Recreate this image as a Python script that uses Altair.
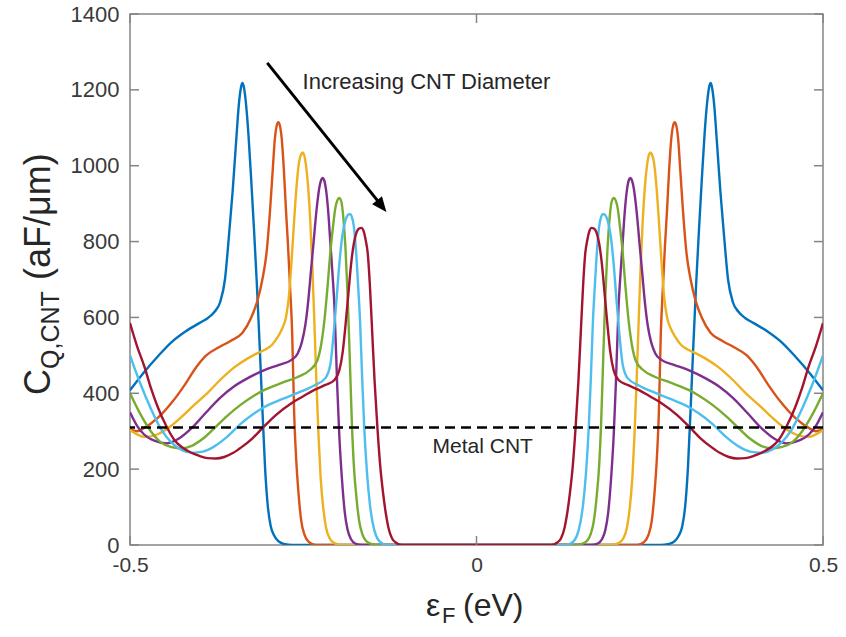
import altair as alt
import pandas as pd

# ---------------- data (left half; right half is the mirror image) ----
series_names = ["s1", "s2", "s3", "s4", "s5", "s6", "s7"]
series_colors = ["#0072BD", "#D95319", "#EDB120", "#7E2F8E", "#77AC30", "#4DBEEE", "#A2142F"]

blue_x = [-0.500, -0.480, -0.460, -0.440, -0.420, -0.400, -0.388, -0.378, -0.370, -0.363, -0.357,
          -0.352, -0.347, -0.343, -0.340, -0.338, -0.336, -0.333, -0.329, -0.325, -0.321, -0.317,
          -0.313, -0.309, -0.305, -0.301, -0.297, -0.292, -0.286, -0.278, -0.265, 0.0]
blue_y = [408, 455, 497, 535, 563, 585, 598, 615, 640, 700, 820,
          930, 1060, 1160, 1205, 1218, 1210, 1170, 1080, 960, 830, 690,
          530, 360, 200, 100, 50, 25, 10, 3, 0, 0]

orange_x = [-0.500, -0.490, -0.480, -0.460, -0.440, -0.420, -0.404, -0.390, -0.371, -0.355, -0.338,
            -0.325, -0.316, -0.309, -0.303, -0.298, -0.294, -0.291, -0.288, -0.286, -0.284, -0.281,
            -0.278, -0.275, -0.272, -0.269, -0.266, -0.263, -0.260, -0.257, -0.253, -0.248, -0.242,
            -0.232, 0.0]
orange_y = [305, 300, 308, 335, 375, 425, 470, 500, 522, 538, 559,
            600, 645, 700, 770, 880, 990, 1070, 1108, 1115, 1108, 1070,
            990, 885, 790, 680, 560, 340, 220, 140, 65, 26, 8,
            0, 0]

yellow_x = [-0.500, -0.479, -0.460, -0.440, -0.426, -0.410, -0.388, -0.370, -0.349, -0.330, -0.316,
            -0.306, -0.295, -0.287, -0.280, -0.275, -0.271, -0.267, -0.263, -0.259, -0.256, -0.253,
            -0.251, -0.249, -0.246, -0.243, -0.240, -0.237, -0.234, -0.231, -0.228, -0.225, -0.221,
            -0.217, -0.212, -0.205, -0.195, 0.0]
yellow_y = [303, 285, 292, 315, 337, 365, 401, 435, 469, 492, 506,
            514, 528, 548, 572, 600, 650, 745, 860, 960, 1010, 1030,
            1035, 1030, 1000, 945, 860, 740, 590, 430, 290, 180, 95,
            45, 18, 5, 0, 0]

purple_x = [-0.500, -0.490, -0.480, -0.465, -0.447, -0.430, -0.410, -0.390, -0.370, -0.350, -0.330,
            -0.306, -0.285, -0.267, -0.258, -0.252, -0.247, -0.243, -0.239, -0.235, -0.231, -0.227,
            -0.224, -0.222, -0.220, -0.217, -0.214, -0.211, -0.208, -0.205, -0.201, -0.198, -0.194,
            -0.190, -0.186, -0.181, -0.175, -0.165, 0.0]
purple_y = [350, 315, 292, 275, 268, 280, 310, 350, 388, 418, 440,
            461, 475, 488, 505, 535, 580, 640, 720, 800, 880, 940,
            963, 968, 963, 935, 880, 800, 720, 630, 420, 290, 170,
            85, 40, 15, 4, 0, 0]

green_x = [-0.500, -0.485, -0.470, -0.455, -0.440, -0.425, -0.410, -0.395, -0.380, -0.360, -0.340,
           -0.320, -0.306, -0.280, -0.258, -0.240, -0.230, -0.224, -0.219, -0.215, -0.211, -0.207,
           -0.204, -0.201, -0.198, -0.195, -0.192, -0.189, -0.186, -0.183, -0.180, -0.177, -0.173,
           -0.169, -0.165, -0.160, -0.152, -0.140, 0.0]
green_y = [400, 345, 300, 270, 258, 255, 262, 280, 305, 340, 370,
           395, 409, 428, 443, 462, 485, 530, 600, 680, 770, 840,
           885, 908, 915, 905, 860, 780, 660, 500, 330, 210, 120,
           60, 30, 12, 3, 0, 0]

cyan_x = [-0.500, -0.485, -0.470, -0.455, -0.440, -0.425, -0.410, -0.395, -0.380, -0.360, -0.340,
          -0.320, -0.306, -0.280, -0.258, -0.235, -0.218, -0.211, -0.206, -0.202, -0.198, -0.194,
          -0.190, -0.187, -0.184, -0.182, -0.180, -0.177, -0.174, -0.171, -0.168, -0.165, -0.162,
          -0.158, -0.154, -0.150, -0.145, -0.139, -0.130, 0.0]
cyan_y = [500, 425, 360, 305, 270, 250, 243, 246, 258, 285, 320,
          348, 364, 385, 401, 420, 440, 475, 560, 646, 740, 810,
          850, 866, 872, 872, 866, 840, 780, 690, 590, 440, 310,
          190, 110, 60, 25, 8, 0, 0]

red_x = [-0.500, -0.490, -0.479, -0.470, -0.460, -0.448, -0.436, -0.423, -0.411, -0.400, -0.388,
         -0.376, -0.364, -0.351, -0.339, -0.324, -0.309, -0.290, -0.267, -0.250, -0.234, -0.218,
         -0.205, -0.198, -0.193, -0.189, -0.185, -0.181, -0.177, -0.173, -0.169, -0.166, -0.163,
         -0.160, -0.157, -0.154, -0.151, -0.147, -0.143, -0.139, -0.135, -0.131, -0.127, -0.122,
         -0.116, -0.108, 0.0]
red_y = [585, 525, 469, 415, 364, 315, 277, 255, 243, 235, 229,
         228, 232, 243, 258, 280, 308, 342, 374, 392, 409, 422,
         435, 460, 510, 580, 660, 740, 795, 825, 835, 836, 828,
         805, 770, 690, 580, 430, 310, 210, 140, 85, 45, 18,
         6, 0, 0]

metal_cq = [310]
x_ticks = [-0.5, 0, 0.5]
y_ticks = [0, 200, 400, 600, 800, 1000, 1200, 1400]

arrow_start = (-0.302, 1271)
arrow_shaft_end = (-0.135, 890)
arrow_tip = (-0.130, 878)
arrow_label = "Increasing CNT Diameter"
arrow_label_pos = (-0.251, 1221)
metal_label = "Metal CNT"
metal_label_pos = (0.009, 258)

# ---------------- table ----------------
all_x = [blue_x, orange_x, yellow_x, purple_x, green_x, cyan_x, red_x]
all_y = [blue_y, orange_y, yellow_y, purple_y, green_y, cyan_y, red_y]
rows = []
for name, xs_, ys_ in zip(series_names, all_x, all_y):
    for x, y in zip(xs_, ys_):
        rows.append({"series": name, "ef": x, "cq": y})
        if x != 0:
            rows.append({"series": name, "ef": -x, "cq": y})
curves = pd.DataFrame(rows)

W, H = 693, 531
FONT = "Liberation Sans"
AXIS_GRAY = "#858585"
TEXT = "#262626"
LABEL = "#3a3a3a"

xs = alt.Scale(domain=[-0.5, 0.5], nice=False, zero=False)
ys = alt.Scale(domain=[0, 1400], nice=False)

x_axis = alt.Axis(values=x_ticks, title=None, grid=False, domain=False, ticks=False, labelFlush=False,
                  labelFont=FONT, labelFontSize=21, labelColor=LABEL, labelPadding=9,
                  labelExpr="datum.value < 0 ? '-' + format(-datum.value, '.1f') : (datum.value == 0 ? '0' : format(datum.value, '.1f'))")
y_axis = alt.Axis(values=y_ticks, title=None, grid=False, domain=False, ticks=False, format="d",
                  labelFlush=False, labelFont=FONT, labelFontSize=22, labelColor=LABEL, labelPadding=11)

lines = alt.Chart(curves).mark_line(strokeWidth=2.4, interpolate="monotone", clip=True).encode(
    x=alt.X("ef:Q", scale=xs, axis=x_axis),
    y=alt.Y("cq:Q", scale=ys, axis=y_axis),
    color=alt.Color("series:N", scale=alt.Scale(domain=series_names, range=series_colors), legend=None),
)

metal = alt.Chart(pd.DataFrame({"cq": metal_cq})).mark_rule(
    color="black", strokeWidth=2.5, strokeDash=[10, 6]).encode(y=alt.Y("cq:Q", scale=ys))

arrow_df = pd.DataFrame({"x1": [arrow_start[0]], "y1": [arrow_start[1]],
                         "x2": [arrow_shaft_end[0]], "y2": [arrow_shaft_end[1]],
                         "tx": [arrow_tip[0]], "ty": [arrow_tip[1]]})
shaft = alt.Chart(arrow_df).mark_rule(color="black", strokeWidth=3).encode(
    x=alt.X("x1:Q", scale=xs), y=alt.Y("y1:Q", scale=ys), x2="x2:Q", y2="y2:Q")
head = alt.Chart(arrow_df).mark_point(
    shape="M0,0L0.42,1L-0.42,1Z", filled=True, color="black", opacity=1, size=900, angle=141.35,
    strokeWidth=0).encode(x=alt.X("tx:Q", scale=xs), y=alt.Y("ty:Q", scale=ys))

lab_df = pd.DataFrame({"x": [arrow_label_pos[0], metal_label_pos[0]],
                       "y": [arrow_label_pos[1], metal_label_pos[1]],
                       "t": [arrow_label, metal_label]})
lab1 = alt.Chart(lab_df.iloc[[0]]).mark_text(font=FONT, fontSize=22, color=TEXT, align="left",
                                             baseline="middle").encode(
    x=alt.X("x:Q", scale=xs), y=alt.Y("y:Q", scale=ys), text="t:N")
lab2 = alt.Chart(lab_df.iloc[[1]]).mark_text(font=FONT, fontSize=21, color=TEXT, align="center",
                                             baseline="middle").encode(
    x=alt.X("x:Q", scale=xs), y=alt.Y("y:Q", scale=ys), text="t:N")

# inward ticks (MATLAB style)
yt = pd.DataFrame({"v": y_ticks})
xt = pd.DataFrame({"v": x_ticks})
tick_style = dict(color=AXIS_GRAY, strokeWidth=1.5)
lt = alt.Chart(yt).mark_rule(**tick_style).encode(y=alt.Y("v:Q", scale=ys), x=alt.value(0), x2=alt.value(9))
rt = alt.Chart(yt).mark_rule(**tick_style).encode(y=alt.Y("v:Q", scale=ys), x=alt.value(W - 9), x2=alt.value(W))
bt = alt.Chart(xt).mark_rule(**tick_style).encode(x=alt.X("v:Q", scale=xs), y=alt.value(H), y2=alt.value(H - 9))
tt = alt.Chart(xt).mark_rule(**tick_style).encode(x=alt.X("v:Q", scale=xs), y=alt.value(0), y2=alt.value(9))

# axis titles with subscripts
one = pd.DataFrame({"k": [0]})
YB, YS = 36, 25
XB, XS = 32, 22
yt_c = alt.Chart(one).mark_text(text="C", font=FONT, fontSize=YB, color=TEXT, angle=270,
                                align="left", baseline="alphabetic").encode(x=alt.value(-80), y=alt.value(381))
yt_s = alt.Chart(one).mark_text(text="Q,CNT", font=FONT, fontSize=YS, color=TEXT, angle=270,
                                align="left", baseline="alphabetic").encode(x=alt.value(-71), y=alt.value(355))
yt_u = alt.Chart(one).mark_text(text="(aF/μm)", font=FONT, fontSize=YB, color=TEXT, angle=270,
                                align="left", baseline="alphabetic").encode(x=alt.value(-80), y=alt.value(266))
xt_e = alt.Chart(one).mark_text(text="ε", font=FONT, fontSize=XB, color=TEXT,
                                align="left", baseline="alphabetic").encode(x=alt.value(296), y=alt.value(602))
xt_f = alt.Chart(one).mark_text(text="F", font=FONT, fontSize=XS, color=TEXT,
                                align="left", baseline="alphabetic").encode(x=alt.value(312), y=alt.value(609))
xt_u = alt.Chart(one).mark_text(text="(eV)", font=FONT, fontSize=XB, color=TEXT,
                                align="left", baseline="alphabetic").encode(x=alt.value(333), y=alt.value(602))

chart = alt.layer(
    lines, metal, shaft, head, lab1, lab2, lt, rt, bt, tt,
    yt_c, yt_s, yt_u, xt_e, xt_f, xt_u
).properties(
    width=W, height=H,
    autosize=alt.AutoSizeParams(type="none"),
    padding={"left": 130, "top": 14, "right": 23, "bottom": 92},
    background="white",
).configure_view(stroke=AXIS_GRAY, strokeWidth=1.5)

chart.save("out.html", embed_options={"renderer": "svg", "actions": False})
